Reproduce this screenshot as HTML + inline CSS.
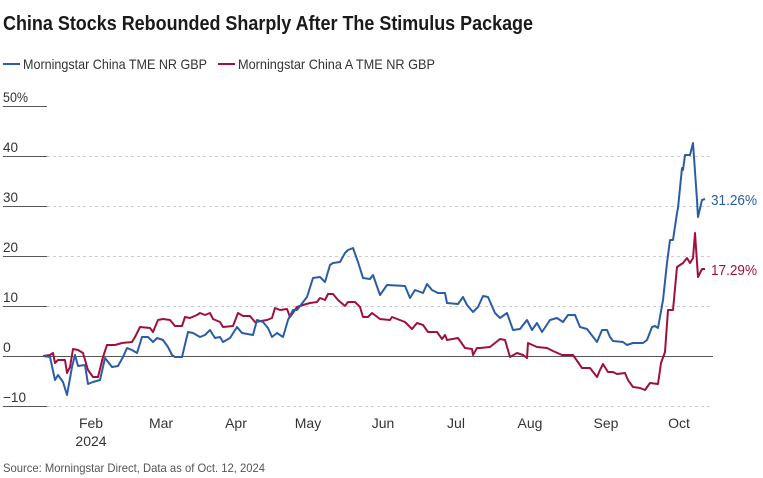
<!DOCTYPE html>
<html><head><meta charset="utf-8"><style>
html,body{margin:0;padding:0;background:#fff;}
svg{display:block;font-family:"Liberation Sans",sans-serif;}
</style></head><body>
<svg width="763" height="478" viewBox="0 0 763 478" xmlns="http://www.w3.org/2000/svg">
<text x="3" y="30" font-size="20" font-weight="bold" fill="#1a1a1a" textLength="530" lengthAdjust="spacingAndGlyphs">China Stocks Rebounded Sharply After The Stimulus Package</text>
<line x1="3" y1="64" x2="20" y2="64" stroke="#2b5ca8" stroke-width="2"/>
<text x="23" y="69" font-size="14" fill="#333" textLength="184" lengthAdjust="spacingAndGlyphs">Morningstar China TME NR GBP</text>
<line x1="218" y1="64" x2="235" y2="64" stroke="#a0103f" stroke-width="2"/>
<text x="238" y="69" font-size="14" fill="#333" textLength="197" lengthAdjust="spacingAndGlyphs">Morningstar China A TME NR GBP</text>
<g stroke="#ccc" stroke-dasharray="3,3" stroke-width="1">
<line x1="47" y1="156.5" x2="713" y2="156.5"/>
<line x1="47" y1="206.5" x2="713" y2="206.5"/>
<line x1="47" y1="256.5" x2="713" y2="256.5"/>
<line x1="47" y1="306.5" x2="713" y2="306.5"/>
<line x1="47" y1="406.5" x2="713" y2="406.5"/>
</g>
<g stroke="#555" stroke-width="1">
<line x1="3" y1="106.5" x2="47" y2="106.5"/>
<line x1="3" y1="156.5" x2="47" y2="156.5"/>
<line x1="3" y1="206.5" x2="47" y2="206.5"/>
<line x1="3" y1="256.5" x2="47" y2="256.5"/>
<line x1="3" y1="306.5" x2="47" y2="306.5"/>
<line x1="3" y1="406.5" x2="47" y2="406.5"/>
<line x1="3" y1="356.5" x2="713" y2="356.5"/>
</g>
<g font-size="14" fill="#333">
<text x="3" y="102" textLength="25" lengthAdjust="spacingAndGlyphs">50%</text>
<text x="3" y="152" textLength="15" lengthAdjust="spacingAndGlyphs">40</text>
<text x="3" y="202" textLength="15" lengthAdjust="spacingAndGlyphs">30</text>
<text x="3" y="252" textLength="15" lengthAdjust="spacingAndGlyphs">20</text>
<text x="3" y="302" textLength="15" lengthAdjust="spacingAndGlyphs">10</text>
<text x="3" y="352">0</text>
<text x="3" y="402" textLength="23" lengthAdjust="spacingAndGlyphs">−10</text>
</g>
<g font-size="14" fill="#333" text-anchor="middle">
<text x="91" y="428">Feb</text>
<text x="91" y="446">2024</text>
<text x="161" y="428">Mar</text>
<text x="236" y="428">Apr</text>
<text x="308" y="428">May</text>
<text x="383" y="428">Jun</text>
<text x="456" y="428">Jul</text>
<text x="530" y="428">Aug</text>
<text x="606" y="428">Sep</text>
<text x="679" y="428">Oct</text>
</g>
<polyline fill="none" stroke="#a0103f" stroke-width="2" stroke-linejoin="round" points="43,356 50,355 53,353 55,363 58,360 65,360 67,373 70,367 73,349 78,350 83,353 88,370 93,377 98,377 103,357 107,345 115,345 122,343 132,342 135,337 140,327 150,328 153,332 158,320 163,319 170,320 175,326 182,326 185,317 190,318 197,315 200,313 205,315 210,313 213,319 220,322 223,327 233,326 238,313 243,316 250,316 255,322 267,320 272,318 275,308 280,310 287,309 290,317 297,307 303,305 310,303 317,302 320,298 325,300 328,294 333,294 338,300 345,306 348,302 355,302 360,307 363,317 368,317 372,313 380,319 390,320 392,317 405,322 412,329 417,323 423,325 428,332 437,332 442,339 445,335 447,340 458,338 465,348 472,349 473,355 477,348 480,348 490,347 495,343 500,339 505,340 510,357 517,353 523,355 527,358 528,343 537,347 547,348 553,351 562,355 573,355 582,368 590,368 597,377 600,370 603,364 608,372 613,372 617,374 625,373 628,380 633,387 640,388 645,390 650,383 658,384 661,363 665,352 668,310 673,310 677,267 683,263 687,258 690,263 693,258 695,233 698,277 702,269 705,269"/>
<polyline fill="none" stroke="#2b5ca8" stroke-width="2" stroke-linejoin="round" points="43,356 50,357 55,380 58,375 63,382 67,395 72,367 75,355 78,366 85,365 88,384 93,382 100,380 105,358 112,367 118,366 123,357 127,348 132,350 137,353 142,337 148,337 153,342 157,338 163,340 168,347 172,355 175,357 182,357 188,332 193,333 200,337 205,335 210,330 215,338 220,337 223,342 230,338 237,327 242,333 253,335 257,320 263,322 268,328 272,337 277,333 283,337 288,320 293,310 297,310 307,297 313,278 320,277 325,282 330,265 333,263 340,262 345,253 348,250 353,248 358,262 363,278 370,279 373,275 380,295 387,285 405,286 410,298 415,290 423,293 427,284 432,290 438,293 445,293 447,303 458,304 463,297 467,305 473,312 478,307 483,296 488,297 495,313 500,318 507,313 513,330 520,329 527,320 532,330 537,323 542,332 550,320 557,318 563,322 568,315 575,315 580,327 587,329 597,342 602,330 607,330 610,337 613,341 623,342 627,345 633,343 643,343 647,340 652,327 655,326 658,328 663,300 667,263 670,240 673,240 677,213 678,208 682,168 683,170 685,155 690,155 693,143 697,200 698,217 702,200 705,199"/>
<text x="711" y="205" font-size="15" fill="#2b5ca8" textLength="46" lengthAdjust="spacingAndGlyphs">31.26%</text>
<text x="711" y="275" font-size="15" fill="#a0103f" textLength="46" lengthAdjust="spacingAndGlyphs">17.29%</text>
<text x="3" y="472" font-size="12" fill="#555" textLength="262" lengthAdjust="spacingAndGlyphs">Source: Morningstar Direct, Data as of Oct. 12, 2024</text>
</svg>
</body></html>
